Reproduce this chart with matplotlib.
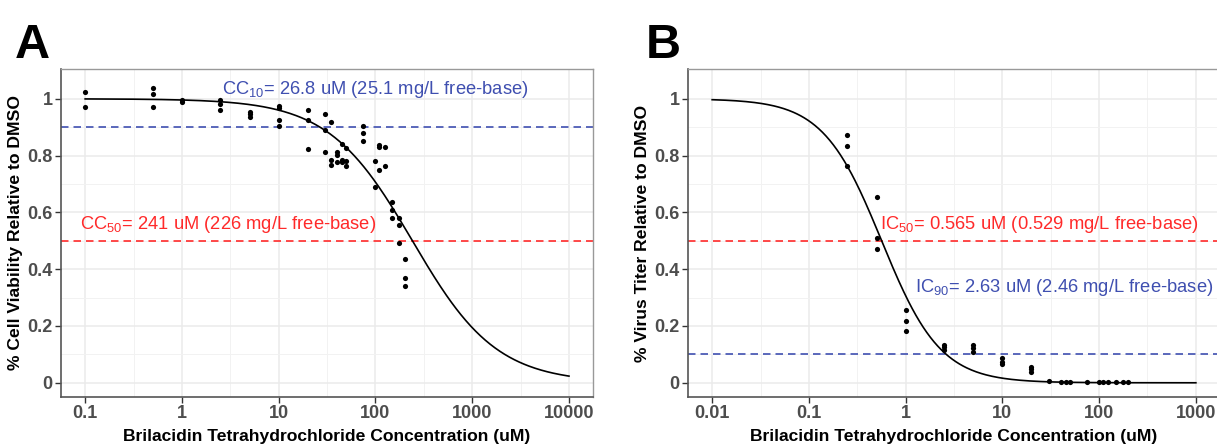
import numpy as np
import matplotlib
matplotlib.use("Agg")
import matplotlib.pyplot as plt

plt.rcParams['font.family'] = ['Liberation Sans', 'DejaVu Sans']
plt.rcParams['mathtext.fontset'] = 'custom'
plt.rcParams['mathtext.rm'] = 'Liberation Sans'
plt.rcParams['mathtext.it'] = 'Liberation Sans:italic'
plt.rcParams['mathtext.bf'] = 'Liberation Sans:bold'

# ---- panel A: cell viability ----
conc_a = [0.1, 0.1,
          0.5, 0.5, 0.5,
          1, 1,
          2.5, 2.5, 2.5,
          5, 5, 5,
          10, 10, 10, 10,
          20, 20, 20,
          30, 30, 30,
          35, 35, 35,
          40, 40, 40,
          45, 45, 45,
          50, 50, 50,
          75, 75, 75,
          100, 100,
          110, 110, 110,
          125, 125,
          150, 150, 150,
          175, 175, 175,
          200, 200, 200]
viab_a = [1.023, 0.972,
          1.037, 1.016, 0.972,
          0.996, 0.989,
          0.997, 0.982, 0.961,
          0.952, 0.945, 0.936,
          0.976, 0.968, 0.927, 0.905,
          0.962, 0.924, 0.823,
          0.947, 0.891, 0.811,
          0.917, 0.786, 0.768,
          0.811, 0.803, 0.776,
          0.842, 0.786, 0.776,
          0.827, 0.780, 0.764,
          0.905, 0.880, 0.850,
          0.780, 0.689,
          0.838, 0.830, 0.748,
          0.830, 0.762,
          0.635, 0.609, 0.580,
          0.580, 0.554, 0.494,
          0.436, 0.368, 0.342]
cc50 = 241.0
hill_a = 1.0
cc10 = 26.8

# ---- panel B: virus titer ----
conc_b = [0.25, 0.25, 0.25,
          0.5, 0.5, 0.5,
          1, 1, 1,
          2.5, 2.5, 2.5,
          5, 5, 5,
          10, 10, 10,
          20, 20, 20,
          30, 40, 45, 50, 75, 100, 110, 125, 150, 175, 200]
titer_b = [0.871, 0.835, 0.762,
           0.653, 0.509, 0.472,
           0.256, 0.218, 0.181,
           0.133, 0.125, 0.115,
           0.133, 0.121, 0.109,
           0.086, 0.074, 0.066,
           0.056, 0.047, 0.038,
           0.006, 0.003, 0.003, 0.003, 0.002, 0.002, 0.002, 0.002, 0.002, 0.002, 0.002]
ic50 = 0.565
ic90 = 2.63
hill_b = np.log(9) / np.log(ic90 / ic50)

xticks_a = [0.1, 1, 10, 100, 1000, 10000]
xticks_b = [0.01, 0.1, 1, 10, 100, 1000]
yticks = [0, 0.2, 0.4, 0.6, 0.8, 1]
ytick_labels = ["0", "0.2", "0.4", "0.6", "0.8", "1"]

BLUE = "#3F4FB0"
RED = "#FF2A2A"
TICK_COL = "#4D4D4D"


def style_axes(ax, xticks):
    lo, hi = np.log10(xticks[0]), np.log10(xticks[-1])
    pad = 0.05 * (hi - lo)
    ax.set_xscale("log")
    ax.set_xlim(10 ** (lo - pad), 10 ** (hi + pad))
    ax.set_ylim(-0.05, 1.105)
    ax.set_xticks(xticks)
    ax.set_xticklabels([("%g" % t) for t in xticks])
    minor = [10 ** (e + 0.5) for e in np.arange(lo, hi)]
    ax.set_xticks(minor, minor=True)
    ax.set_yticks(yticks)
    ax.set_yticklabels(ytick_labels)
    ax.set_yticks([0.1, 0.3, 0.5, 0.7, 0.9], minor=True)
    ax.grid(which="major", color="#EBEBEB", lw=1.1)
    ax.grid(which="minor", color="#F2F2F2", lw=0.7)
    ax.set_axisbelow(True)
    ax.tick_params(which="minor", length=0)
    ax.tick_params(which="major", length=4, width=1, color="#333333",
                   labelsize=13, labelcolor=TICK_COL, pad=2)
    for lab in ax.get_xticklabels() + ax.get_yticklabels():
        lab.set_fontweight("bold")
    for side in ["top", "right"]:
        ax.spines[side].set_color("#999999")
        ax.spines[side].set_linewidth(1.0)
    for side in ["left", "bottom"]:
        ax.spines[side].set_color("#555555")
        ax.spines[side].set_linewidth(1.2)
    ax.set_xlabel("Brilacidin Tetrahydrochloride Concentration (uM)",
                  fontsize=12.6, fontweight="bold", labelpad=5)


fig = plt.figure(figsize=(12.17, 4.46), dpi=100)
ax1 = fig.add_axes([0.0501, 0.1099, 0.4373, 0.7354])
ax2 = fig.add_axes([0.5653, 0.1099, 0.4372, 0.7354])

# A
style_axes(ax1, xticks_a)
xs = np.logspace(-1, 4, 400)
ax1.plot(xs, 1 / (1 + (xs / cc50) ** hill_a), color="black", lw=1.2, zorder=3)
ax1.axhline(0.9, color=BLUE, ls=(0, (4.5, 3)), lw=1.2, zorder=2)
ax1.axhline(0.5, color=RED, ls=(0, (4.5, 3)), lw=1.2, zorder=2)
ax1.scatter(conc_a, viab_a, s=14, color="black", zorder=4, linewidths=0)
ax1.text(100, 1.033, "CC$_{10}$= 26.8 uM (25.1 mg/L free-base)", color=BLUE,
         fontsize=13.2, ha="center", va="center")
ax1.text(3, 0.556, "CC$_{50}$= 241 uM (226 mg/L free-base)", color=RED,
         fontsize=13.2, ha="center", va="center")
ax1.set_ylabel("% Cell Viability Relative to DMSO", fontsize=12.6,
               fontweight="bold", labelpad=3)

# B
style_axes(ax2, xticks_b)
xs = np.logspace(-2, 3, 400)
ax2.plot(xs, 1 / (1 + (xs / ic50) ** hill_b), color="black", lw=1.2, zorder=3)
ax2.axhline(0.1, color=BLUE, ls=(0, (4.5, 3)), lw=1.2, zorder=2)
ax2.axhline(0.5, color=RED, ls=(0, (4.5, 3)), lw=1.2, zorder=2)
ax2.scatter(conc_b, titer_b, s=14, color="black", zorder=4, linewidths=0)
ax2.text(24, 0.556, "IC$_{50}$= 0.565 uM (0.529 mg/L free-base)", color=RED,
         fontsize=13.2, ha="center", va="center")
ax2.text(44, 0.334, "IC$_{90}$= 2.63 uM (2.46 mg/L free-base)", color=BLUE,
         fontsize=13.2, ha="center", va="center")
ax2.set_ylabel("% Virus Titer Relative to DMSO", fontsize=12.6,
               fontweight="bold", labelpad=3)

fig.text(0.012, 0.870, "A", fontsize=35, fontweight="bold", va="baseline")
fig.text(0.531, 0.870, "B", fontsize=35, fontweight="bold", va="baseline")

fig.savefig("out.png", dpi=100)
